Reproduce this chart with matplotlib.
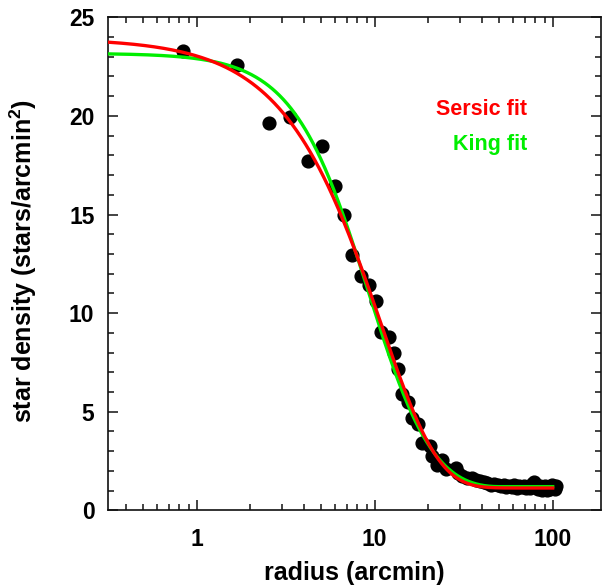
import numpy as np
import matplotlib
matplotlib.use("Agg")
import matplotlib.pyplot as plt
from matplotlib.ticker import FixedLocator, NullFormatter, FixedFormatter

plt.rcParams['font.family'] = ['Liberation Sans', 'DejaVu Sans']
plt.rcParams['font.weight'] = 'bold'
plt.rcParams['mathtext.fontset'] = 'custom'
plt.rcParams['mathtext.bf'] = 'Liberation Sans:bold'
plt.rcParams['mathtext.rm'] = 'Liberation Sans:bold'
plt.rcParams['mathtext.default'] = 'bf'

# ---- observed radial profile (radius in arcmin, density in stars/arcmin^2)
radius = [0.84, 1.68, 2.54, 3.34, 4.20, 5.04, 5.98, 6.75, 7.43, 8.34, 9.25,
          10.2, 10.9, 12.0, 12.8, 13.6, 14.2, 15.3, 16.1, 17.5, 18.4, 20.4,
          20.9, 22.3, 24.0, 25.2, 28.6, 29.4, 31, 33, 35, 37, 39, 41, 43, 45,
          47, 49, 51, 53, 55, 57, 59, 61, 63, 65, 67, 69, 71, 73, 75, 77, 79,
          81, 83, 85, 87, 89, 91, 93, 95, 97, 99, 101, 103, 105]
density = [23.3, 22.6, 19.66, 19.93, 17.71, 18.49, 16.46, 14.97, 12.95, 11.9,
           11.4, 10.62, 9.04, 8.78, 7.96, 7.15, 5.9, 5.5, 4.67, 4.38, 3.42,
           3.27, 2.76, 2.3, 2.55, 2.1, 2.13, 1.88, 1.72, 1.62, 1.64, 1.52,
           1.48, 1.42, 1.38, 1.30, 1.34, 1.28, 1.22, 1.30, 1.18, 1.25, 1.20,
           1.28, 1.15, 1.22, 1.18, 1.25, 1.12, 1.20, 1.15, 1.32, 1.45, 1.18,
           1.10, 1.22, 1.05, 1.15, 1.25, 1.02, 1.18, 1.10, 1.30, 1.20, 1.08,
           1.22]

# ---- fit parameters
# Sersic: bg + I0 * exp(-(r/a)^(1/n))
sersic_bg, sersic_I0, sersic_a, sersic_m = 1.13, 22.8, 10.8, 1.354
# King (1962): bg + k * (1/sqrt(1+(r/rc)^2) - 1/sqrt(1+(rt/rc)^2))^2
king_bg, king_k, king_rc, king_rt = 1.2, 34.0, 10.0, 50.0

x_lim = (0.3187, 186.1)
y_lim = (0, 25)
x_ticks = [1, 10, 100]
x_ticklabels = ['1', '10', '100']
y_ticks = [0, 5, 10, 15, 20, 25]

r = np.logspace(np.log10(x_lim[0]), np.log10(100), 600)
sersic = sersic_bg + sersic_I0 * np.exp(-(r / sersic_a) ** sersic_m)
rr = np.minimum(r, king_rt)
king = king_bg + king_k * (1 / np.sqrt(1 + (rr / king_rc) ** 2)
                           - 1 / np.sqrt(1 + (king_rt / king_rc) ** 2)) ** 2

fig = plt.figure(figsize=(6.08, 5.88), dpi=100)
ax = fig.add_axes([108.3 / 608, (588 - 510.3) / 588,
                   (600.7 - 108.3) / 608, (510.3 - 17.3) / 588])

ax.plot(radius, density, 'o', color='black', ms=9.2, zorder=2)
ax.plot(r, king, color='#00ee00', lw=2.4, zorder=3)
ax.plot(r, sersic, color='#ff0000', lw=2.4, zorder=4)

ax.set_xscale('log')
ax.set_xlim(*x_lim)
ax.set_ylim(*y_lim)

ax.xaxis.set_major_locator(FixedLocator(x_ticks))
ax.xaxis.set_major_formatter(FixedFormatter(x_ticklabels))
minor_x = [m * 10.0 ** e for e in (-1, 0, 1, 2) for m in range(2, 10)]
ax.xaxis.set_minor_locator(FixedLocator(minor_x))
ax.xaxis.set_minor_formatter(NullFormatter())
ax.yaxis.set_major_locator(FixedLocator(y_ticks))
ax.yaxis.set_minor_locator(FixedLocator(list(range(0, 26))))

for s in ax.spines.values():
    s.set_linewidth(1.2)
    s.set_color('#111111')

ax.tick_params(which='both', direction='in', top=True, right=True,
               width=1.1, color='#111111')
ax.tick_params(which='major', length=7.5, labelsize=16.5)
ax.tick_params(axis='x', which='major', pad=12.5)
ax.tick_params(axis='y', which='major', pad=10)
ax.tick_params(which='minor', length=4.5)
for lab in ax.get_xticklabels() + ax.get_yticklabels():
    lab.set_fontweight('bold')

ax.set_xlabel('radius (arcmin)', fontsize=18, fontweight='bold')
ax.set_ylabel(r'star density (stars/arcmin$^{2}$)', fontsize=18,
              fontweight='bold')
ax.xaxis.set_label_coords(0.5, -0.103)
ax.yaxis.set_label_coords(-0.1416, 0.506)

ax.text(0.850, 0.802, 'Sersic fit', color='#ff0000', fontsize=15.5,
        fontweight='bold', ha='right', va='baseline', transform=ax.transAxes)
ax.text(0.850, 0.731, 'King fit', color='#00ee00', fontsize=15.5,
        fontweight='bold', ha='right', va='baseline', transform=ax.transAxes)

fig.savefig('out.png', dpi=100)
